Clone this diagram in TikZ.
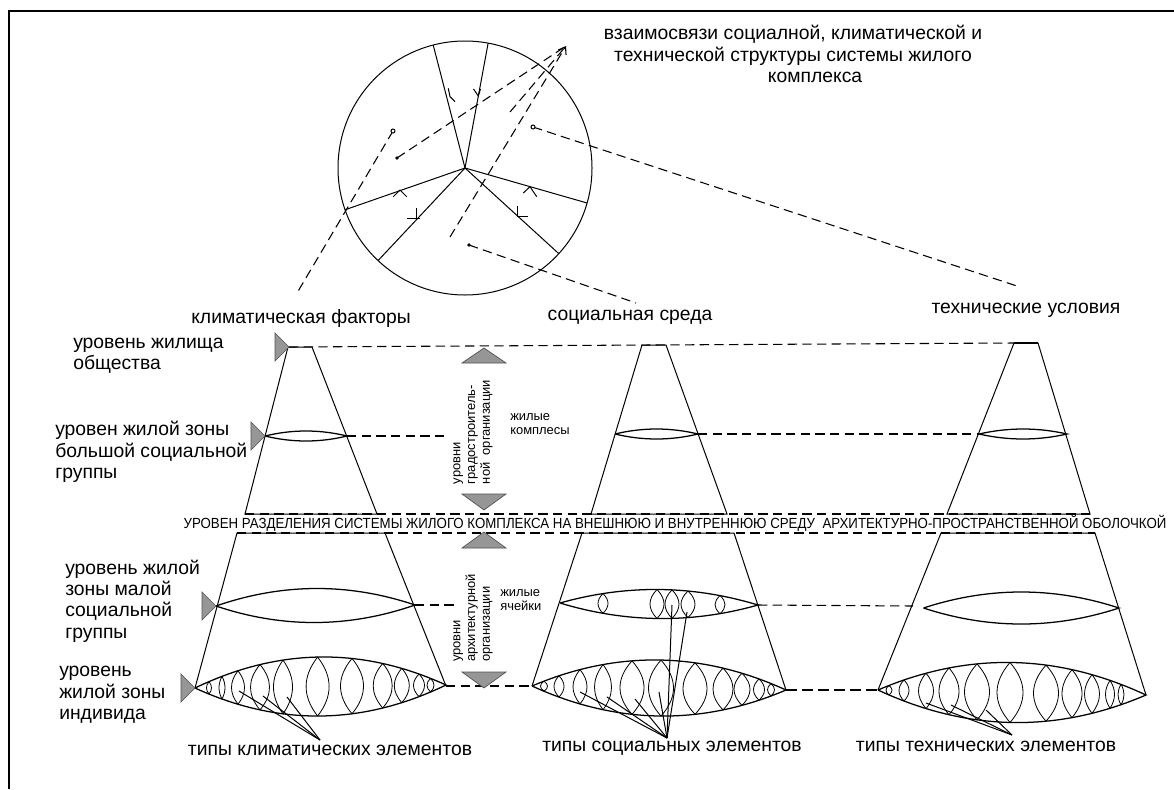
\documentclass[tikz,border=0pt]{standalone}
\usepackage{fontspec}
\setmainfont{Liberation Sans}
\usetikzlibrary{calc,arrows.meta}
\newcommand{\lensH}[5]{%
  \draw[lensline] (#1,#2)
    .. controls ({#1+(#3-#1)/3},{#2+(#4-#2)/3-4*#5/3}) and ({#1+2*(#3-#1)/3},{#2+2*(#4-#2)/3-4*#5/3}) .. (#3,#4)
    .. controls ({#1+2*(#3-#1)/3},{#2+2*(#4-#2)/3+4*#5/3}) and ({#1+(#3-#1)/3},{#2+(#4-#2)/3+4*#5/3}) .. (#1,#2);}
\newcommand{\innerL}[6]{%
  \foreach \cc/\ww in {#6}{%
    \pgfmathsetmacro\lT{(\cc-#1)/(#3-#1)}%
    \pgfmathsetmacro\lY{#2+(#4-#2)*\lT}%
    \pgfmathsetmacro\lD{4*#5*\lT*(1-\lT)}%
    \pgfmathsetmacro\lA{\lY-\lD}%
    \pgfmathsetmacro\lB{\lY+\lD}%
    \pgfmathsetmacro\lK{4*\ww/3}%
    \pgfmathsetmacro\lP{\lA+(\lB-\lA)/3}%
    \pgfmathsetmacro\lQ{\lA+2*(\lB-\lA)/3}%
    \draw[innerline] (\cc,\lA) .. controls ({\cc+\lK},\lP) and ({\cc+\lK},\lQ) .. (\cc,\lB) .. controls ({\cc-\lK},\lQ) and ({\cc-\lK},\lP) .. (\cc,\lA);
  }}
\begin{document}
\begin{tikzpicture}[x=0.75pt,y=-0.75pt,
  thinline/.style={line width=0.75pt},
  lensline/.style={line width=0.95pt},
  innerline/.style={line width=0.6pt},
  dline/.style={dash pattern=on 7pt off 4pt, line width=0.8pt},
  dthick/.style={dash pattern=on 8pt off 4pt, line width=1.3pt},
  tri/.style={fill={rgb,255:red,150;green,150;blue,150}, draw={rgb,255:red,80;green,80;blue,80}, line width=0.5pt},
  lbl/.style={font=\fontsize{14.5}{16}\selectfont, inner sep=0pt},
  smalltxt/.style={font=\fontsize{9.7}{11}\selectfont, inner sep=0pt},
]
\useasboundingbox (0,0) rectangle (1174,789);
% frame
\draw[line width=1.8pt] (9,789) -- (9,11) -- (1174,11);

% ---------- circle ----------
\coordinate (C) at (465,168);
\draw[thinline] (C) circle (127);
\foreach \a in {-104.5,-79.5,160.8,133.2,16,42.4}
  \draw[thinline] (C) -- ($(C)+(\a:127)$);
% marks on radial lines
\draw[thinline] (448.3,88.3) -- (450,96.7) -- (455,101.7);
\draw[thinline] (473.5,89) -- (478.3,96) -- (480.5,89);
\draw[thinline] (393.3,196.7) -- (400,190) -- (406.7,196.7);
\draw[thinline] (523.3,193) -- (530,186.7) -- (536.7,196.7);
\draw[thinline] (416.7,208.3) -- (416.7,218.3) (406.7,218.3) -- (420,218.3);
\draw[thinline] (517.3,206) -- (517.3,216) -- (528.3,216);

% dashed connectors of the circle
\coordinate (p1) at (393,131); \coordinate (e1) at (297,293);
\coordinate (p2) at (397,158); \coordinate (tip) at (566,46);
\coordinate (p3) at (510,112);
\coordinate (p4) at (450,237);
\coordinate (p5) at (533,127); \coordinate (e5) at (1020,287);
\coordinate (p6) at (469,245); \coordinate (e6) at (636,303);
\draw[dline] (p1) -- (e1);
\draw[dline] (p2) -- (tip);
\draw[dline] (p3) -- (tip);
\draw[dline,-{Straight Barb[length=5pt,width=7pt]}] (p4) -- (tip);
\draw[dline] (p5) -- (e5);
\draw[dline] (p6) -- (e6);
\draw[thinline,fill=white] (p1) circle (2);
\draw[thinline,fill=white] (p5) circle (2);
\fill (p2) circle (1.8);
\fill (p6) circle (1.8);

\node[lbl, align=center] (lblTop) at (793,54) {взаимосвязи социалной, климатической и\\технической структуры системы жилого\\\hspace*{33pt}комплекса};

% ---------- column labels ----------
\node[lbl] (lblClim) at (301,318) {климатическая факторы};
\node[lbl] (lblSoc) at (630,317) {социальная среда};
\node[lbl] (lblTech) at (1026,310) {технические условия};

% ---------- left level labels ----------
\node[lbl, align=left, anchor=west] (lv1) at (73,356) {уровень жилища\\общества};
\node[lbl, align=left, anchor=west] (lv2) at (55,452) {уровен жилой зоны\\большой социальной\\группы};
\node[lbl, align=left, anchor=west] (lv3) at (65,601) {уровень жилой\\зоны малой\\социальной\\группы};
\node[lbl, align=left, anchor=west] (lv4) at (59,695) {уровень\\жилой зоны\\индивида};

% ---------- horizontal dashed levels ----------
\draw[dline] (289,347) -- (1014,343);
\draw[dline] (347,436) -- (447,436);
\draw[dline] (698,434) -- (979,434);
\draw[dline] (245,514) -- (1090,514);
\draw[dline] (237,533) -- (1095,533);
\draw[dline] (415,605) -- (455,605);
\draw[dline] (758,605) -- (913,606);
\draw[dline] (446,686) -- (532,686);
\draw[dthick] (786,690) -- (878,690);

% ---------- climatic column ----------
\draw[thinline] (245,514) -- (288,347) -- (312,347) -- (377,514) -- cycle;
\draw[thinline] (195,688) -- (237,533) -- (385,533) -- (446,686);
\lensH{265}{436}{347}{436}{5}
\lensH{216}{606}{415}{605}{17}
\lensH{195}{688}{446}{685}{29.5}
\innerL{195}{688}{446}{685}{29.5}{209/2.5,222/3,238/6.5,260/9.5,283/9.5,317.6/11.5,352/11.5,382.7/9.5,401.8/7.5,419/5.5,430.5/3.5}
\coordinate (aClim) at (320,740);
\foreach \q in {(239,691),(263,696),(287,697)} \draw[thinline] (aClim) -- \q;
\node[lbl] (tClim) at (330,750) {типы климатических элементов};

% ---------- social column ----------
\draw[thinline] (591,514) -- (642,345) -- (666,345) -- (727,514) -- cycle;
\draw[thinline] (532,686) -- (582,533) -- (734,533) -- (786,690);
\lensH{615}{434}{698}{434}{5}
\lensH{560}{603}{758}{605}{14.5}
\innerL{560}{603}{758}{605}{14.5}{603/5,657/7,672/7,688/7,720/5}
\lensH{532}{686}{786}{690}{28}
\innerL{532}{686}{786}{690}{28}{544/3.5,559/5,580/7,603/8.5,632/12,661/12.5,695/12,723/10,742/8,759/5.5,771/3.5}
\coordinate (aSoc) at (667,738);
\foreach \q in {(580,692),(607,697),(635,699),(659,692),(672,605),(687,612)} \draw[thinline] (aSoc) -- \q;
\node[lbl] (tSoc) at (672,748) {типы социальных элементов};

% ---------- technical column ----------
\draw[thinline] (947,514) -- (1014,343) -- (1038,343) -- (1090,514) -- cycle;
\draw[line width=1.3pt] (1014,343) -- (1038,343);
\draw[thinline] (878,690) -- (941,533) -- (1095,533) -- (1146,695);
\lensH{979}{434}{1067}{434}{5}
\lensH{923.5}{608}{1119}{608}{16}
\lensH{878}{690}{1146}{695}{30}
\innerL{878}{690}{1146}{695}{30}{889/3,904/5,926/7.5,949/10,977/12.5,1010/13,1046/12.5,1072/10,1092/7.5,1110/4.5,1121/3}
\coordinate (aTech) at (1012,735);
\foreach \q in {(926,703),(951,705),(986,710)} \draw[thinline] (aTech) -- \q;
\node[lbl] (tTech) at (986,746) {типы технических элементов};

% ---------- level markers ----------
\draw[tri] (289,347) -- (275,333) -- (275,361) -- cycle;
\draw[tri] (265,436) -- (251,422) -- (251,450) -- cycle;
\draw[tri] (216,606) -- (202,592) -- (202,620) -- cycle;
\draw[tri] (195,688) -- (181,674) -- (181,702) -- cycle;
\draw[tri] (484,348) -- (506,363) -- (462,363) -- cycle;
\draw[tri] (462,494) -- (506,494) -- (484,510) -- cycle;
\draw[tri] (484,532) -- (506,548) -- (462,548) -- cycle;
\draw[tri] (462,672) -- (506,672) -- (484,688) -- cycle;

% ---------- middle texts ----------
\node[smalltxt, rotate=90, align=left] (rotA) at (473,432) {уровни\\градостроитель-\\ной\ \ организации};
\node[smalltxt, align=left, anchor=west] (zhK) at (510,424) {жилые\\комплесы};
\node[smalltxt, rotate=90, align=left] (rotB) at (473,618) {уровни\\архитектурной\\организации};
\node[smalltxt, align=left, anchor=west] (zhY) at (500,600) {жилые\\ячейки};
\node[inner sep=0pt, anchor=base] (sep) at (675,528) {\resizebox{737pt}{\height}{\fontsize{11}{13}\selectfont УРОВЕН РАЗДЕЛЕНИЯ СИСТЕМЫ ЖИЛОГО КОМПЛЕКСА НА ВНЕШНЮЮ И ВНУТРЕННЮЮ СРЕДУ\ \ АРХИТЕКТУРНО-ПРОСТРАНСТВЕННОЙ ОБОЛОЧКОЙ}};
\end{tikzpicture}
\end{document}
